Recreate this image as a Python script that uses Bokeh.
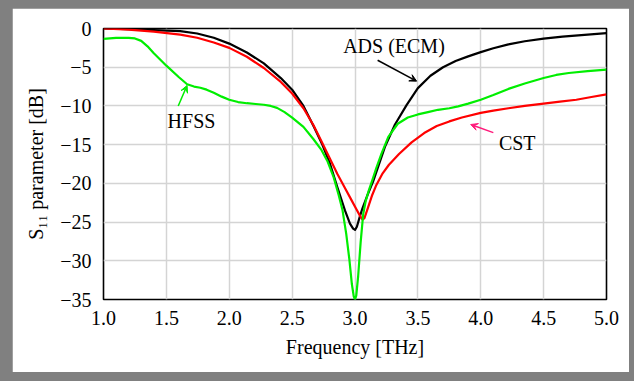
from bokeh.plotting import figure
from bokeh.models import Range1d, FixedTicker, Label, Arrow, VeeHead
from bokeh.layouts import column
from bokeh.embed import file_html
from bokeh.resources import INLINE

# ADS (ECM)
ads_f = [1.0, 1.2, 1.4, 1.61, 1.745, 1.877, 2.0, 2.14, 2.275, 2.41, 2.5, 2.59, 2.67, 2.74, 2.8, 2.86,
         2.92, 2.96, 2.985, 3.0, 3.015, 3.04, 3.06, 3.1, 3.145, 3.2, 3.24, 3.318, 3.41, 3.5, 3.6,
         3.7, 3.8, 3.9, 4.0, 4.1, 4.22, 4.35, 4.5, 4.65, 4.8, 5.0]
ads_s = [0.0, -0.08, -0.2, -0.35, -0.65, -1.2, -1.95, -3.1, -4.5, -6.4, -7.9, -10.0, -12.6, -15.0, -17.4, -20.5,
         -23.5, -25.2, -25.85, -26.0, -25.6, -24.2, -23.2, -21.5, -19.7, -17.1, -15.2, -12.4, -9.9, -7.7, -6.1,
         -5.0, -4.2, -3.6, -3.05, -2.55, -2.05, -1.65, -1.3, -1.05, -0.85, -0.6]

# CST
cst_f = [1.0, 1.2, 1.4, 1.61, 1.745, 1.877, 2.0, 2.14, 2.275, 2.41, 2.5, 2.59, 2.67, 2.74, 2.8, 2.86,
         2.92, 2.97, 3.01, 3.04, 3.06, 3.075, 3.1, 3.137, 3.17, 3.22, 3.27, 3.35, 3.45, 3.55, 3.65, 3.75,
         3.85, 4.0, 4.1, 4.22, 4.35, 4.5, 4.63, 4.76, 4.88, 5.0]
cst_s = [0.0, -0.15, -0.4, -0.8, -1.2, -1.8, -2.5, -3.65, -5.1, -6.9, -8.4, -10.3, -12.5, -14.8, -16.8, -18.8,
         -20.6, -22.1, -23.3, -24.2, -24.7, -24.5, -23.3, -21.5, -20.2, -18.7, -17.6, -16.2, -14.7, -13.5, -12.6, -12.0,
         -11.5, -10.9, -10.6, -10.3, -10.0, -9.7, -9.45, -9.2, -8.85, -8.5]

# HFSS
hfss_f = [1.0, 1.1, 1.2, 1.25, 1.3, 1.35, 1.4, 1.5, 1.6, 1.665, 1.72, 1.77, 1.82, 1.877, 1.94, 2.0, 2.07,
          2.14, 2.21, 2.275, 2.33, 2.38, 2.44, 2.5, 2.59, 2.67, 2.73, 2.78, 2.83, 2.87, 2.9, 2.93, 2.955,
          2.975, 2.99, 3.0, 3.01, 3.025, 3.045, 3.065, 3.085, 3.11, 3.14, 3.17, 3.21, 3.265, 3.34, 3.42,
          3.5, 3.58, 3.66, 3.75, 3.82, 3.9, 4.0, 4.1, 4.22, 4.35, 4.5, 4.6, 4.7, 4.85, 5.0]
hfss_s = [-1.33, -1.2, -1.2, -1.28, -1.6, -2.3, -3.2, -4.8, -6.3, -7.2, -7.5, -7.65, -7.9, -8.3, -8.8, -9.2, -9.5,
          -9.65, -9.75, -9.85, -10.0, -10.25, -10.8, -11.5, -12.7, -14.3, -15.6, -17.1, -19.2, -21.5, -23.4, -26.5, -29.8,
          -33.0, -34.6, -35.0, -34.5, -32.0, -27.6, -24.0, -22.3, -20.9, -19.5, -18.0, -16.2, -14.0, -12.3, -11.5,
          -11.1, -10.8, -10.5, -10.3, -10.05, -9.7, -9.2, -8.6, -7.8, -7.1, -6.4, -6.0, -5.75, -5.5, -5.3]

x_ticks = [1.0, 1.5, 2.0, 2.5, 3.0, 3.5, 4.0, 4.5, 5.0]
x_tick_labels = ["1.0", "1.5", "2.0", "2.5", "3.0", "3.5", "4.0", "4.5", "5.0"]
y_ticks = [0, -5, -10, -15, -20, -25, -30, -35]
y_tick_labels = ["0", "\u22125", "\u221210", "\u221215", "\u221220", "\u221225", "\u221230", "\u221235"]

FONT = "Liberation Serif"
FS = "20px"

p = figure(width=617, height=364, output_backend="svg", toolbar_location=None,
           x_range=Range1d(1, 5), y_range=Range1d(-35, 0),
           min_border_left=91, min_border_right=23, min_border_top=20, min_border_bottom=73)
p.background_fill_color = "white"
p.border_fill_color = "white"
p.outline_line_color = "black"
p.outline_line_width = 1.6

for ax in (p.xaxis[0], p.yaxis[0]):
    ax.axis_line_color = None
    ax.major_tick_line_color = None
    ax.minor_tick_line_color = None
    ax.major_label_text_font = FONT
    ax.major_label_text_font_size = FS
    ax.major_label_text_color = "black"
    ax.axis_label_text_font = FONT
    ax.axis_label_text_font_size = FS
    ax.axis_label_text_font_style = "normal"
    ax.axis_label_text_color = "black"

p.xaxis.ticker = FixedTicker(ticks=x_ticks)
p.xaxis.major_label_overrides = {t: l for t, l in zip(x_ticks, x_tick_labels)}
p.yaxis.ticker = FixedTicker(ticks=y_ticks)
p.yaxis.major_label_overrides = {t: l for t, l in zip(y_ticks, y_tick_labels)}
p.xaxis.major_label_standoff = 5
p.yaxis.major_label_standoff = 6
p.xaxis.axis_label = "Frequency [THz]"
p.yaxis.axis_label = "S\u2081\u2081 parameter [dB]"
p.xaxis.axis_label_standoff = 8
p.yaxis.axis_label_standoff = 10

p.grid.grid_line_color = "#d4d4d4"
p.grid.grid_line_width = 1.5

p.line(ads_f, ads_s, line_color="black", line_width=2.2, line_join="round")
p.line(cst_f, cst_s, line_color="#ff0000", line_width=2.2, line_join="round")
p.line(hfss_f, hfss_s, line_color="#00ee00", line_width=2.2, line_join="round")

labels = [("ADS (ECM)", 3.31, -2.3), ("HFSS", 1.70, -11.9), ("CST", 4.29, -14.8)]
for txt, lx, ly in labels:
    p.add_layout(Label(x=lx, y=ly, text=txt, text_font=FONT, text_font_size=FS,
                       text_align="center", text_baseline="middle", text_color="black"))

arrows = [(3.18, -4.1, 3.49, -6.8, "black"),
          (1.594, -10.0, 1.665, -7.35, "#00ee00"),
          (4.10, -13.45, 3.92, -12.4, "#ff1a7a")]
for x0, y0, x1, y1, c in arrows:
    p.add_layout(Arrow(x_start=x0, y_start=y0, x_end=x1, y_end=y1, line_color=c, line_width=1.5,
                       end=VeeHead(size=7, line_color=c, fill_color=c, line_width=1)))

layout = column(p, styles={"background-color": "#808080", "padding": "8px 5px 9px 12px"})

open("out.html", "w").write(file_html(layout, INLINE))
